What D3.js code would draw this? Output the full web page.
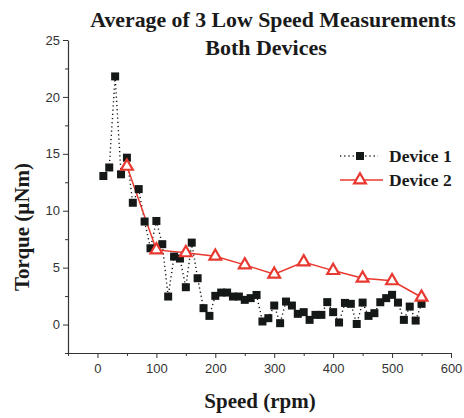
<!DOCTYPE html>
<html><head><meta charset="utf-8">
<script src="https://cdn.jsdelivr.net/npm/d3@7"></script>
<style>html,body{margin:0;padding:0;background:#fff;}svg{display:block;}</style>
</head><body>
<svg id="c" width="464" height="418"></svg>
<script>
const titleLines = ["Average of 3 Low Speed Measurements", "Both Devices"];
const xLabel = "Speed (rpm)";
const yLabel = "Torque (\u00b5Nm)";
const seriesNames = ["Device 1", "Device 2"];

const d1Speed = [10,20,30,40,50,60,70,80,90,100,110,120,130,140,150,160,170,180,190,200,210,220,230,240,250,260,270,280,290,300,310,320,330,340,350,360,370,380,390,400,410,420,430,440,450,460,470,480,490,500,510,520,530,540,550];
const d1Torque = [13.05,13.8,21.8,13.2,14.66,10.7,11.9,9.05,6.7,9.1,7.06,2.46,5.97,5.8,3.28,7.2,4.07,1.44,0.76,2.52,2.81,2.81,2.46,2.46,2.17,2.32,2.6,0.27,0.56,1.67,0.12,2.02,1.67,0.94,1.09,0.41,0.85,0.85,1.97,1.09,0.18,1.9,1.82,0.05,1.93,0.76,1.0,1.96,2.32,2.61,1.93,0.41,1.58,0.35,1.82];

const d2Speed = [50,100,150,200,250,300,350,400,450,500,550];
const d2Torque = [13.9,6.56,6.3,6.0,5.24,4.42,5.5,4.74,4.07,3.84,2.4];

const xMajor = [0,100,200,300,400,500,600];
const xMinor = [-50,50,150,250,350,450,550];
const yMajor = [0,5,10,15,20,25];
const yMinor = [-2.5,2.5,7.5,12.5,17.5,22.5];

const svg = d3.select("#c");
const x = d3.scaleLinear().domain([-50,600]).range([68,451]);
const y = d3.scaleLinear().domain([-2.5,25]).range([353,40]);
const axisCol = "#333";
const red = "#e8382f";

// axes
const gx = svg.append("g").attr("transform","translate(0,353)");
gx.call(d3.axisBottom(x).tickValues(xMajor).tickSize(5).tickSizeOuter(0).tickPadding(6));
gx.append("g").call(d3.axisBottom(x).tickValues(xMinor).tickSize(3).tickFormat("").tickSizeOuter(0)).select(".domain").remove();
const gy = svg.append("g").attr("transform","translate(68,0)");
gy.call(d3.axisLeft(y).tickValues(yMajor).tickSize(5).tickSizeOuter(0).tickPadding(3));
gy.append("g").call(d3.axisLeft(y).tickValues(yMinor).tickSize(3).tickFormat("").tickSizeOuter(0)).select(".domain").remove();
svg.selectAll(".domain").attr("stroke",axisCol).attr("stroke-width",1.2);
svg.selectAll(".tick line").attr("stroke",axisCol).attr("stroke-width",1);
svg.selectAll(".tick text").attr("font-family","Liberation Sans, Arial, sans-serif").attr("font-size",13).attr("fill","#333");

// series
const d1 = d1Speed.map((s,i)=>({x:s,y:d1Torque[i]}));
const d2 = d2Speed.map((s,i)=>({x:s,y:d2Torque[i]}));
const line = d3.line().x(d=>x(d.x)).y(d=>y(d.y));
svg.append("path").datum(d1).attr("d",line).attr("fill","none").attr("stroke","#111").attr("stroke-width",1.4).attr("stroke-dasharray","1.2,3");
svg.append("path").datum(d2).attr("d",line).attr("fill","none").attr("stroke",red).attr("stroke-width",1.5);
const sq = 8;
svg.append("g").selectAll("rect").data(d1).join("rect")
  .attr("x",d=>x(d.x)-sq/2).attr("y",d=>y(d.y)-sq/2).attr("width",sq).attr("height",sq).attr("fill","#141816");
const tri = d3.symbol().type(d3.symbolTriangle).size(60);
svg.append("g").selectAll("path").data(d2).join("path")
  .attr("d",tri).attr("transform",d=>`translate(${x(d.x)},${y(d.y)})`)
  .attr("fill","#fff").attr("stroke",red).attr("stroke-width",2.2);

// legend
const lg = svg.append("g");
lg.append("line").attr("x1",340).attr("x2",378).attr("y1",156).attr("y2",156).attr("stroke","#111").attr("stroke-width",1.4).attr("stroke-dasharray","1.2,3");
lg.append("rect").attr("x",356).attr("y",152).attr("width",8).attr("height",8).attr("fill","#141816");
lg.append("line").attr("x1",340).attr("x2",383).attr("y1",180).attr("y2",180).attr("stroke",red).attr("stroke-width",1.5);
lg.append("path").attr("d",tri).attr("transform","translate(360,180)").attr("fill","#fff").attr("stroke",red).attr("stroke-width",2.2);
lg.selectAll("text").data(seriesNames).join("text")
  .attr("x",389).attr("y",(d,i)=>162+i*24).text(d=>d)
  .attr("font-family","Liberation Serif, Times New Roman, serif").attr("font-weight","bold").attr("font-size",17.5).attr("fill","#1a1a1a");

// titles
const tf = "Liberation Serif, Times New Roman, serif";
svg.append("text").attr("x",273).attr("y",27).attr("text-anchor","middle").text(titleLines[0])
  .attr("font-family",tf).attr("font-weight","bold").attr("font-size",21.8).attr("fill","#1a1a1a");
svg.append("text").attr("x",266).attr("y",55).attr("text-anchor","middle").text(titleLines[1])
  .attr("font-family",tf).attr("font-weight","bold").attr("font-size",22).attr("fill","#1a1a1a");
svg.append("text").attr("x",260).attr("y",408).attr("text-anchor","middle").text(xLabel)
  .attr("font-family",tf).attr("font-weight","bold").attr("font-size",21).attr("fill","#1a1a1a");
svg.append("text").attr("transform","translate(29,227) rotate(-90)").attr("text-anchor","middle").text(yLabel)
  .attr("font-family",tf).attr("font-weight","bold").attr("font-size",21).attr("fill","#1a1a1a");
</script>
</body></html>
